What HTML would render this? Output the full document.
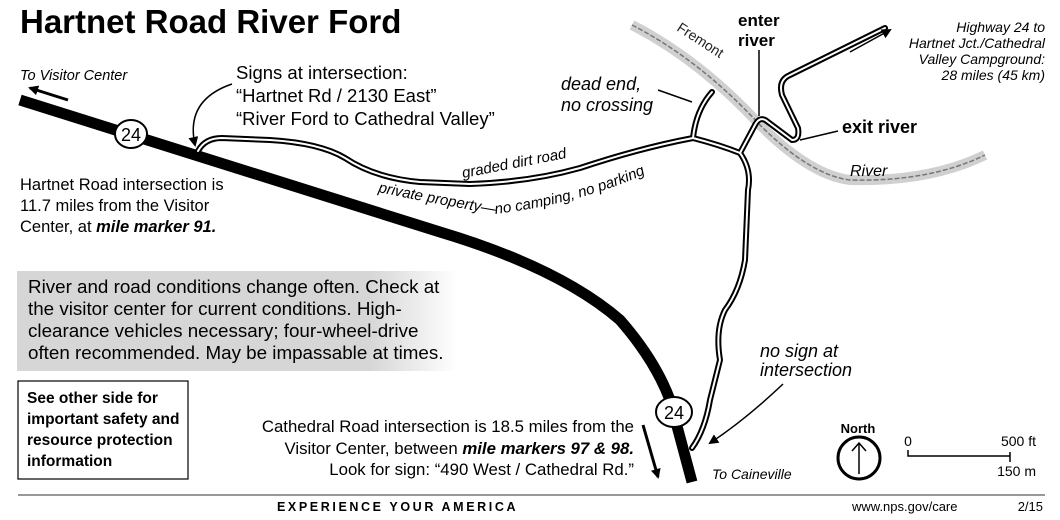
<!DOCTYPE html>
<html><head><meta charset="utf-8"><style>
body{margin:0;background:#fff;width:1060px;height:515px;overflow:hidden;font-family:"Liberation Sans","DejaVu Sans",sans-serif;}
</style></head><body>
<svg width="1060" height="515" viewBox="0 0 1060 515" xmlns="http://www.w3.org/2000/svg" font-family="Liberation Sans, DejaVu Sans, sans-serif">
<defs>
<marker id="ah" markerWidth="10" markerHeight="10" refX="8" refY="5" orient="auto" markerUnits="userSpaceOnUse"><path d="M0,0 L10,5 L0,10 z" fill="#000"/></marker>
<linearGradient id="gg" x1="0" x2="1"><stop offset="0.8" stop-color="#d6d6d6"/><stop offset="1" stop-color="#fff"/></linearGradient>
</defs>
<text x="20" y="33" font-size="33" font-weight="bold">Hartnet Road River Ford</text>
<path d="M632,25 Q700,60 760,125 Q810,175 850,180 Q930,182 985,155" stroke="#d0d0d0" stroke-width="10" fill="none"/>
<path d="M632,25 Q700,60 760,125 Q810,175 850,180 Q930,182 985,155" stroke="#777" stroke-width="1.5" fill="none" stroke-dasharray="5,2"/>
<text x="676" y="30" font-size="14" transform="rotate(33 676 30)" fill="#222">Fremont</text>
<text x="850" y="176" font-size="16" font-style="italic">River</text>
<path d="M20,100 L440,232 Q560,268 620,320 Q655,360 670,400 L692,482" stroke="#000" stroke-width="11" fill="none"/>
<g fill="none" stroke-linejoin="round" stroke-linecap="round">
<g stroke="#000" stroke-width="6">
<path d="M198,151 Q205,138 222,138 L270,140 Q320,143 345,158 Q375,178 420,182 L470,184 Q530,182 580,168 Q640,148 693,138 Q720,145 740,153"/>
<path d="M693,138 Q696,110 712,92"/>
<path d="M740,153 L755,125 Q760,115 768,122 L792,140 Q800,140 798,128 L782,95 Q778,80 790,75 L885,28"/>
<path d="M740,153 Q752,170 748,190 L745,260 Q740,290 725,310 Q715,330 720,360 L710,400 Q705,430 692,448"/>
</g>
<g stroke="#fff" stroke-width="2">
<path d="M198,151 Q205,138 222,138 L270,140 Q320,143 345,158 Q375,178 420,182 L470,184 Q530,182 580,168 Q640,148 693,138 Q720,145 740,153"/>
<path d="M693,138 Q696,110 712,92"/>
<path d="M740,153 L755,125 Q760,115 768,122 L792,140 Q800,140 798,128 L782,95 Q778,80 790,75 L885,28"/>
<path d="M740,153 Q752,170 748,190 L745,260 Q740,290 725,310 Q715,330 720,360 L710,400 Q705,430 692,448"/>
</g>
</g>
<ellipse cx="131" cy="134" rx="16" ry="14" fill="#fff" stroke="#000" stroke-width="2"/>
<text x="131" y="141" font-size="18" text-anchor="middle">24</text>
<ellipse cx="674" cy="412" rx="18" ry="15" fill="#fff" stroke="#000" stroke-width="2"/>
<text x="674" y="419" font-size="18" text-anchor="middle">24</text>
<line x1="68" y1="100" x2="30" y2="88" stroke="#000" stroke-width="3" marker-end="url(#ah)"/>
<path d="M232,84 Q185,100 195,145" stroke="#000" stroke-width="1.5" fill="none" marker-end="url(#ah)"/>
<line x1="643" y1="425" x2="658" y2="477" stroke="#000" stroke-width="3" marker-end="url(#ah)"/>
<path d="M783,384 Q745,420 710,443" stroke="#000" stroke-width="1.5" fill="none" marker-end="url(#ah)"/>
<line x1="850" y1="52" x2="890" y2="30" stroke="#000" stroke-width="1.5" marker-end="url(#ah)"/>
<line x1="658" y1="90" x2="692" y2="102" stroke="#000" stroke-width="1.5"/>
<line x1="759" y1="50" x2="759" y2="116" stroke="#000" stroke-width="1.5"/>
<line x1="800" y1="140" x2="838" y2="131" stroke="#000" stroke-width="1.5"/>
<text x="20" y="80" font-size="14.5" font-style="italic">To Visitor Center</text>
<g font-size="18.5"><text x="236" y="79">Signs at intersection:</text><text x="236" y="102">“Hartnet Rd / 2130 East”</text><text x="236" y="125">“River Ford to Cathedral Valley”</text></g>
<g font-size="16.5"><text x="20" y="190">Hartnet Road intersection is</text><text x="20" y="211">11.7 miles from the Visitor</text><text x="20" y="232">Center, at <tspan font-weight="bold" font-style="italic">mile marker 91.</tspan></text></g>
<text x="463" y="178" font-size="15" font-style="italic" transform="rotate(-11 463 178)">graded dirt road</text>
<path id="pp" d="M378,192 Q430,203 495,214 Q610,200 695,148" fill="none"/>
<text font-size="15" font-style="italic"><textPath href="#pp">private property—no camping, no parking</textPath></text>
<g font-size="18" font-style="italic"><text x="561" y="90">dead end,</text><text x="561" y="111">no crossing</text></g>
<g font-size="17" font-weight="bold"><text x="738" y="26">enter</text><text x="738" y="46">river</text></g>
<text x="842" y="133" font-size="18" font-weight="bold">exit river</text>
<g font-size="14" font-style="italic" text-anchor="end"><text x="1045" y="32">Highway 24 to</text><text x="1045" y="48">Hartnet Jct./Cathedral</text><text x="1045" y="64">Valley Campground:</text><text x="1045" y="80">28 miles (45 km)</text></g>
<rect x="17" y="271" width="440" height="100" fill="url(#gg)"/>
<g font-size="18.8"><text x="28" y="293">River and road conditions change often. Check at</text><text x="28" y="315">the visitor center for current conditions. High-</text><text x="28" y="337">clearance vehicles necessary; four-wheel-drive</text><text x="28" y="359">often recommended. May be impassable at times.</text></g>
<rect x="18" y="381" width="170" height="98" fill="#fff" stroke="#000" stroke-width="1.2"/>
<g font-size="15.5" font-weight="bold"><text x="27" y="403">See other side for</text><text x="27" y="424">important safety and</text><text x="27" y="445">resource protection</text><text x="27" y="466">information</text></g>
<g font-size="16.8" text-anchor="end"><text x="634" y="432">Cathedral Road intersection is 18.5 miles from the</text><text x="634" y="454">Visitor Center, between <tspan font-weight="bold" font-style="italic">mile markers 97 &amp; 98.</tspan></text><text x="634" y="475">Look for sign: “490 West / Cathedral Rd.”</text></g>
<g font-size="18" font-style="italic"><text x="760" y="357">no sign at</text><text x="760" y="376">intersection</text></g>
<text x="712" y="479" font-size="14" font-style="italic">To Caineville</text>
<text x="858" y="433" font-size="13" font-weight="bold" text-anchor="middle">North</text>
<circle cx="859" cy="458" r="21" fill="none" stroke="#000" stroke-width="3"/>
<line x1="859" y1="474" x2="859" y2="444" stroke="#000" stroke-width="1.5"/>
<path d="M852,451 L859,443 L866,451" fill="none" stroke="#000" stroke-width="1.5"/>
<text x="908" y="446" font-size="14" text-anchor="middle">0</text>
<text x="1036" y="446" font-size="14" text-anchor="end">500 ft</text>
<text x="1036" y="476" font-size="14" text-anchor="end">150 m</text>
<path d="M908,450 L908,456 L1010,456 M1010,452 L1010,462" stroke="#000" stroke-width="1.5" fill="none"/>
<line x1="18" y1="495" x2="1045" y2="495" stroke="#777" stroke-width="1.5"/>
<text x="277" y="511" font-size="12.5" font-weight="bold" letter-spacing="2.6">EXPERIENCE YOUR AMERICA</text>
<text x="852" y="511" font-size="13">www.nps.gov/care</text>
<text x="1043" y="511" font-size="13" text-anchor="end">2/15</text>
</svg>
</body></html>
